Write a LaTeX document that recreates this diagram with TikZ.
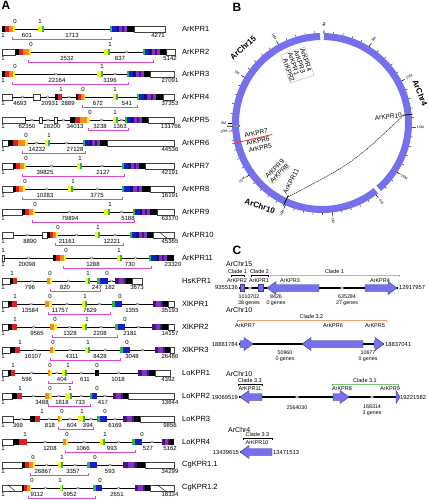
\documentclass[tikz,border=0pt]{standalone}
\usepackage{fontspec}
\setmainfont{Liberation Sans}
\usetikzlibrary{positioning}

\definecolor{kred}{RGB}{228,30,30}
\definecolor{korange}{RGB}{245,140,30}
\definecolor{kyellow}{RGB}{250,240,40}
\definecolor{kgreen}{RGB}{40,190,60}
\definecolor{kblue}{RGB}{20,30,210}
\definecolor{kdblue}{RGB}{20,20,110}
\definecolor{kviolet}{RGB}{130,50,200}
\definecolor{kdviolet}{RGB}{70,20,120}
\definecolor{kmag}{RGB}{220,70,200}
\definecolor{ringc}{RGB}{118,112,236}
\definecolor{geneout}{RGB}{60,60,140}
\definecolor{cladeor}{RGB}{240,160,120}
\definecolor{cladegr}{RGB}{120,200,120}
\definecolor{cladepu}{RGB}{190,170,230}

\tikzset{
  utr/.style={draw=black!75, fill=white, line width=0.5pt},
  intron/.style={line width=0.9pt},
  brk/.style={draw=black!60, fill=white, line width=0.3pt},
  mag/.style={draw=kmag, line width=0.7pt},
  gname/.style={anchor=west, inner sep=0pt, font=\fontsize{7.5}{8}\selectfont},
  num/.style={inner sep=0pt, font=\fontsize{6}{7}\selectfont},
  phase/.style={inner sep=0pt, font=\fontsize{6}{7}\selectfont},
  panel/.style={inner sep=0pt, font=\fontsize{12}{13}\selectfont\bfseries},
  ring/.style={fill=ringc},
  tickl/.style={line width=0.35pt},
  ticklab/.style={inner sep=0pt, font=\fontsize{3.5}{4}\selectfont},
  chrlab/.style={inner sep=0pt, font=\fontsize{8}{9}\selectfont\bfseries},
  blab/.style={inner sep=0.6pt, font=\fontsize{6.5}{6.5}\selectfont},
  link/.style={line width=0.4pt, dash pattern=on 1.5pt off 0.6pt},
  gene/.style={fill=ringc, draw=geneout, line width=0.4pt},
  chrline/.style={line width=1.4pt},
  ctitle/.style={inner sep=0pt, font=\fontsize{7}{8}\selectfont},
  ctext/.style={inner sep=0pt, font=\fontsize{5.5}{6}\selectfont},
  ccoord/.style={inner sep=1pt, font=\fontsize{5.8}{7}\selectfont},
  cnum/.style={inner sep=0pt, align=center, font=\fontsize{5.3}{5.8}\selectfont}
}

% exon blocks: y, x1, x2, from, to, colour
\newcommand{\blk}[6]{\fill[#6] ({#2+(#3-#2)*#4},#1-3) rectangle ({#2+(#3-#2)*#5},#1+3);}
\newcommand{\segu}[3]{\draw[utr] (#2,#1-3) rectangle (#3,#1+3);}
\newcommand{\segs}[3]{\segu{#1}{#2}{#3}\draw[line width=0.4pt] ({#2+(#3-#2)*0.3},#1-3) -- ({#2+(#3-#2)*0.65},#1+3);}
\newcommand{\segi}[3]{\draw[intron] (#2,#1) -- (#3,#1);}
\newcommand{\segj}[3]{\segi{#1}{#2}{#3}\draw[brk] ({(#2+#3)/2},#1) ellipse (1.6 and 1.1);}
\newcommand{\segn}[3]{\blk{#1}{#2}{#3}{0}{.24}{black}\blk{#1}{#2}{#3}{.24}{.5}{kred}\blk{#1}{#2}{#3}{.5}{.86}{korange}\blk{#1}{#2}{#3}{.86}{1}{kyellow}}
\newcommand{\segr}[3]{\blk{#1}{#2}{#3}{0}{.45}{black}\blk{#1}{#2}{#3}{.45}{1}{kred}}
\newcommand{\sego}[3]{\blk{#1}{#2}{#3}{0}{.6}{korange}\blk{#1}{#2}{#3}{.6}{1}{kyellow}}
\newcommand{\segy}[3]{\blk{#1}{#2}{#3}{0}{.65}{kyellow}\blk{#1}{#2}{#3}{.65}{1}{kgreen}}
\newcommand{\segb}[3]{\blk{#1}{#2}{#3}{0}{.3}{kgreen}\blk{#1}{#2}{#3}{.3}{1}{kblue}}
\newcommand{\segk}[3]{\blk{#1}{#2}{#3}{0}{1}{black}}
\newcommand{\segp}[3]{\blk{#1}{#2}{#3}{0}{.22}{kdviolet}\blk{#1}{#2}{#3}{.22}{.5}{kviolet}\blk{#1}{#2}{#3}{.5}{.65}{kdviolet}\blk{#1}{#2}{#3}{.65}{1}{black}}
\newcommand{\segc}[3]{\blk{#1}{#2}{#3}{0}{.07}{kgreen}\blk{#1}{#2}{#3}{.07}{.28}{kblue}\blk{#1}{#2}{#3}{.28}{.38}{kdblue}\blk{#1}{#2}{#3}{.38}{.52}{kviolet}\blk{#1}{#2}{#3}{.52}{.6}{kdviolet}\blk{#1}{#2}{#3}{.6}{.72}{kviolet}\blk{#1}{#2}{#3}{.72}{1}{black}}

% one gene structure: y, segments, phases, numbers, bracket from, bracket to, node name, label
\newcommand{\kprrow}[8]{%
  \foreach \sx/\sa/\sb in {#2} {\csname seg\sx\endcsname{#1}{\sa}{\sb}}
  \foreach \x/\lb in {#3} {\node[phase] at (\x,#1-8) {\lb};}
  \foreach \x/\lb in {#4} {\node[num] at (\x,#1+6.5) {\lb};}
  \draw[mag] (#5,#1+8) -- (#5,#1+10) -- (#6,#1+10) -- (#6,#1+8);
  \node[gname] (#7) at (182,#1) {#8};
}

\newcommand{\chrticks}[2]{%
  \foreach \m in {0,...,#2} {\pgfmathsetmacro{\ang}{#1-6.1*\m}\draw[tickl] (\ang:90) -- (\ang:92);}
  \foreach \m in {0,5,...,#2} {%
    \pgfmathsetmacro{\ang}{#1-6.1*\m}
    \pgfmathsetmacro{\rot}{cos(\ang)<0 ? \ang+180 : \ang}
    \draw[tickl] (\ang:90) -- (\ang:94);
    \node[ticklab, rotate=\rot] at (\ang:98.5) {\m M};}
}

\newcommand{\garR}[3]{%
  \pgfmathsetmacro{\hlen}{min(9,#2-#1)}
  \draw[gene] (#1,#3-3.5) -- ({#2-\hlen},#3-3.5) -- ({#2-\hlen},#3-6.5) -- (#2,#3) -- ({#2-\hlen},#3+6.5) -- ({#2-\hlen},#3+3.5) -- (#1,#3+3.5) -- cycle;}
\newcommand{\garL}[3]{%
  \pgfmathsetmacro{\hlen}{min(9,#2-#1)}
  \draw[gene] (#2,#3-3.5) -- ({#1+\hlen},#3-3.5) -- ({#1+\hlen},#3-6.5) -- (#1,#3) -- ({#1+\hlen},#3+6.5) -- ({#1+\hlen},#3+3.5) -- (#2,#3+3.5) -- cycle;}
\newcommand{\gbox}[3]{\draw[gene] (#1,#3-3.5) rectangle (#2,#3+3.5);}
\newcommand{\clade}[5]{%
  \draw[#4, line width=0.6pt] (#1,#3+2) -- (#1,#3) -- (#2,#3) -- (#2,#3+2);
  \node[ctext, anchor=south] at ({(#1+#2)/2},#3-1.5) {#5};}

\begin{document}
\begin{tikzpicture}[x=1pt, y=-1pt]
\useasboundingbox (0,0) rectangle (428,500);
\fill[white] (0,0) rectangle (428,500);

\node[panel] (pa) at (6,5) {A};
\node[panel] (pb) at (237,7) {B};
\node[panel] (pc) at (237,250) {C};

\kprrow{29}{n/2/15, i/15/38, y/38/44, i/44/110, c/110/134, u/134/165}{15/0, 40/1}{3/1, 27/601, 72/1713, 158/4271}{12}{111}{ar1}{ArKPR1}
\kprrow{52}{u/2/15, n/15/31, i/31/104, y/104/110, j/110/143, c/143/166, u/166/175}{31/0, 110/1}{3/1, 67/2532, 120/837, 170/5142}{28}{153}{ar2}{ArKPR2}
\kprrow{74}{n/2/15, j/15/97, y/97/103, j/103/127, c/127/150, u/150/174}{15/0, 102/1}{3/1, 57/22164, 110/3196, 170/27091}{12}{128}{ar3}{ArKPR3}
\kprrow{97}{u/2/12, j/12/33, u/33/40, j/40/55, r/55/62, j/62/76, n/76/85, i/85/113, y/113/118, i/118/137, c/137/163, u/163/174}{61/1, 83/0, 115/1}{3/1, 20/4693, 50/20931, 68/2889, 98/672, 127/541, 170/37353}{82}{137}{ar4}{ArKPR4}
\kprrow{120}{u/2/25, j/25/39, u/39/42, j/42/54, u/54/57, j/57/70, n/70/90, j/90/113, y/113/118, j/118/125, c/125/148, u/148/174}{90/0, 115/1}{3/1, 27/62350, 52/28200, 75/34013, 100/3238, 120/1363, 171/131766}{88}{128}{ar5}{ArKPR5}
\kprrow{143}{u/2/8, n/8/28, j/28/45, y/45/50, j/50/83, c/83/107, u/107/174}{26/0, 49/1}{3/1, 37/14232, 75/27128, 170/44536}{22}{85}{ar6}{ArKPR6}
\kprrow{166}{u/2/13, n/13/26, j/26/77, y/77/82, j/82/122, c/122/145, u/145/174}{26/0, 80/1}{3/1, 45/39825, 103/2127, 170/42191}{22}{124}{ar7}{ArKPR7}
\kprrow{189}{u/2/13, n/13/25, j/25/68, y/68/73, j/73/122, c/122/150, u/150/174}{25/0, 73/1}{3/1, 45/10283, 97/3775, 170/16191}{22}{122}{ar8}{ArKPR8}
\kprrow{212}{u/2/22, n/22/35, j/35/104, y/104/110, j/110/133, c/133/157, u/157/174}{35/0, 110/1}{3/1, 70/79894, 128/5188, 170/63170}{32}{134}{ar9}{ArKPR9}
\kprrow{235}{u/2/13, j/13/42, u/42/47, n/47/58, j/58/95, y/95/100, j/100/130, c/130/153, s/153/174}{58/0, 98/1}{3/1, 30/8890, 67/21161, 112/12221, 170/45365}{55}{123}{ar10}{ArKPR10}
\kprrow{258}{u/2/4, j/4/53, n/53/66, j/66/117, y/117/122, j/122/149, c/149/174}{3/1, 66/0, 119/1}{3/1, 27/20098, 93/1288, 130/730, 173/23320}{63}{151}{ar11}{ArKPR11}
\kprrow{281}{u/2/10, r/10/17, j/17/47, o/47/52, j/52/85, y/85/90, i/90/97, b/97/108, j/108/115, p/115/132, u/132/142}{12/1, 50/0, 88/1, 107/0}{3/1, 30/796, 65/820, 97/247, 110/182, 137/3673}{50}{100}{hs1}{HsKPR1}
\kprrow{304}{u/2/8, r/8/17, j/17/45, o/45/52, j/52/82, y/82/87, j/87/112, b/112/122, j/122/153, p/153/168, u/168/174}{15/1, 50/0, 85/1, 120/0}{3/1, 30/13584, 60/11757, 90/7629, 132/1355, 170/35193}{48}{110}{xl1}{XlKPR1}
\kprrow{327}{u/2/8, r/8/17, j/17/50, o/50/57, j/57/82, y/82/87, j/87/115, b/115/125, j/125/152, p/152/168, u/168/174}{15/1, 55/0, 87/1, 125/0}{3/1, 37/9565, 70/1328, 100/2208, 130/2181, 170/14157}{52}{117}{xl2}{XlKPR2}
\kprrow{350}{u/2/10, r/10/20, j/20/50, o/50/55, j/55/85, y/85/90, j/90/120, b/120/130, j/130/155, p/155/170, u/170/174}{20/1, 53/0, 88/1, 127/0}{3/1, 33/16107, 72/4311, 100/8428, 132/3048, 170/26486}{50}{120}{xl3}{XlKPR3}
\kprrow{373}{u/2/8, r/8/15, j/15/48, o/48/52, j/52/62, y/62/67, j/67/95, k/95/99, j/99/138, p/138/155, u/155/170}{13/1, 50/0, 68/1, 97/0}{3/1, 27/596, 62/404, 85/611, 118/1018, 168/4392}{48}{72}{lo1}{LoKPR1}
\kprrow{396}{u/2/12, r/12/22, j/22/45, o/45/52, j/52/65, y/65/72, j/72/90, b/90/97, j/97/113, p/113/128, u/128/174}{20/1, 50/0, 70/1, 97/0}{3/1, 42/3488, 62/1618, 80/733, 103/417, 170/13644}{48}{90}{lo2}{LoKPR2}
\kprrow{419}{u/2/13, j/13/30, r/30/40, j/40/58, o/58/62, j/62/78, y/78/85, j/85/97, b/97/107, j/107/123, p/123/140, u/140/174}{42/1, 62/0, 82/1, 105/0}{3/1, 18/369, 50/818, 72/604, 88/394, 115/6169, 170/9856}{58}{93}{lo3}{LoKPR3}
\kprrow{442}{u/2/13, r/13/27, j/27/63, o/63/68, j/68/100, y/100/105, j/105/132, b/132/142, j/142/162, p/162/174}{25/1, 67/0, 105/1, 142/0}{3/1, 50/1208, 83/1066, 112/993, 148/527, 170/5162}{65}{135}{lo4}{LoKPR4}
\kprrow{465}{u/2/22, n/22/35, j/35/58, y/58/63, j/63/87, b/87/97, j/97/123, p/123/145, u/145/174}{33/0, 62/1, 95/0}{3/1, 43/26867, 73/3357, 110/593, 170/34299}{30}{88}{cg11}{CgKPR1.1}
\kprrow{488}{s/2/22, n/22/31, j/31/60, y/60/63, j/63/93, b/93/102, j/102/135, p/135/150, s/150/174}{32/0, 60/1, 100/0}{3/1, 37/9112, 70/6952, 117/2651, 170/18334}{28}{95}{cg12}{CgKPR1.2}

\begin{scope}[shift={(322,123)}, y=1pt]
  \foreach \sa/\sb in {-49/88.8, 91.2/181.5, 182.5/308.5}
    \fill[ring] (\sa:83) arc[start angle=\sa, end angle=\sb, radius=83] -- (\sb:90) arc[start angle=\sb, end angle=\sa, radius=90] -- cycle;
  \chrticks{88.8}{22}
  \chrticks{307}{20}
  \chrticks{180}{14}
  \node[chrlab, rotate=42] (chr15) at (-79,75) {ArChr15};
  \node[chrlab, rotate=-68] (chr4) at (98,30) {ArChr4};
  \node[chrlab, rotate=-20] (chr10) at (-62,-83) {ArChr10};
  \draw[line width=0.8pt] (182:82) -- (182:95);
  \draw[line width=0.8pt] (5.5:81) -- (5.5:91);
  \draw[line width=0.8pt] (245:80) -- (245:91);
  \draw[red!75!pink, line width=0.8pt] (193:51) -- (193:92);
  \coordinate (m10) at (5.5:82);
  \coordinate (m11) at (245:82);
  \draw[link] (m10) .. controls (31,-40) .. (m11);
  \node[blab, anchor=east, rotate=5.5] (b10) at (5.5:81) {ArKPR10};
  \node[blab, rotate=-72, draw=black!30, align=left] (b4) at (113:63) {ArKPR4\\ArKPR3\\ArKPR1\\\hspace{5pt}ArKPR2};
  \node[blab, anchor=west, rotate=12] (b7) at (189:79) {ArKPR7};
  \node[blab, anchor=west, rotate=12] (b6) at (195:79) {ArKPR6};
  \node[blab, anchor=west, rotate=12] (b5) at (200.5:79) {ArKPR5};
  \node[blab, rotate=45, draw=cladegr!60, align=left] (b9) at (227:66) {ArKPR9\\ArKPR8};
  \node[blab, rotate=62] (b11) at (242:66) {ArKPR11};
\end{scope}

% ArChr15
\node[ctitle, anchor=west] (t15) at (226,264) {ArChr15};
\node[ccoord, anchor=east] (l15) at (239,288) {9355136};
\node[ccoord, anchor=west] (r15) at (398,288) {12917957};
\draw[chrline] (l15.east) -- (r15.west);
\draw[brk] (250,288) ellipse (1.8 and 1.2);
\draw[brk] (342,288) ellipse (1.8 and 1.2);
\gbox{240}{244}{288}
\gbox{258}{263}{288}
\garL{267}{319}{288}
\garR{365}{397}{288}
\clade{231}{244}{275}{black}{Clade 1}
\clade{251}{268}{275}{black}{Clade 2}
\clade{270}{399}{275}{cladepu}{Clade 1}
\node[ctext] (k2) at (237,280.5) {ArKPR2};
\node[ctext] (k1) at (259,280.5) {ArKPR1};
\node[ctext] (k3) at (290,280.5) {ArKPR3};
\node[ctext] (k4) at (380,280.5) {ArKPR4};
\node[cnum] (n15a) at (249,300) {1010702\\38 genes};
\node[cnum] (n15b) at (276,300) {8426\\0 genes};
\node[cnum] (n15c) at (347,300) {635284\\27 genes};

% ArChr10, clade 3.2
\node[ctitle, anchor=west] (t10a) at (226,310) {ArChr10};
\node[ccoord, anchor=east] (l10a) at (239,344) {18881784};
\node[ccoord, anchor=west] (r10a) at (384,344) {18837041};
\draw[chrline] (l10a.east) -- (r10a.west);
\garR{240}{253}{344}
\garL{302}{363}{344}
\garR{374}{384}{344}
\clade{237}{386}{320}{cladeor}{Clade 3.2}
\node[ctext] (k7) at (245,326) {ArKPR7};
\node[ctext] (k6) at (333,326) {ArKPR6};
\node[ctext] (k5) at (375,326) {ArKPR5};
\node[cnum] (n10a) at (285,356) {50960\\0 genes};
\node[cnum] (n10b) at (368,356) {10677\\0 genes};

% ArChr10, clades 3.3 and 3.1
\node[ctitle, anchor=west] (t10b) at (226,374) {ArChr10};
\node[ccoord, anchor=east] (l10b) at (239,397) {19069519};
\node[ccoord, anchor=west] (r10b) at (399,397) {19221582};
\draw[chrline] (l10b.east) -- (r10b.west);
\draw[brk] (297,397) ellipse (1.8 and 1.2);
\draw[brk] (372,397) ellipse (1.8 and 1.2);
\garL{240}{262}{397}
\garR{333}{349}{397}
\garR{396}{400}{397}
\clade{238}{262}{384}{black}{Clade 3.3}
\clade{332}{398}{384}{cladegr}{Clade 3.1}
\node[ctext] (k11) at (250,389) {ArKPR11};
\node[ctext] (k8) at (342,389) {ArKPR8};
\node[ctext] (k9) at (390,389) {ArKPR9};
\node[cnum] (n10c) at (297,408) {2564030};
\node[cnum] (n10d) at (372,410) {168314\\3 genes};

% ArChr4
\node[ctitle, anchor=west] (t4) at (228,430) {ArChr4};
\node[ccoord, anchor=east] (l4) at (240,452) {13439615};
\node[ccoord, anchor=west] (r4) at (272,452) {13471513};
\draw[chrline] (l4.east) -- (r4.west);
\garL{240}{272}{452}
\clade{243}{272}{438}{black}{Clade 3.3}
\node[ctext] (k10) at (257,443) {ArKPR10};
\end{tikzpicture}
\end{document}
